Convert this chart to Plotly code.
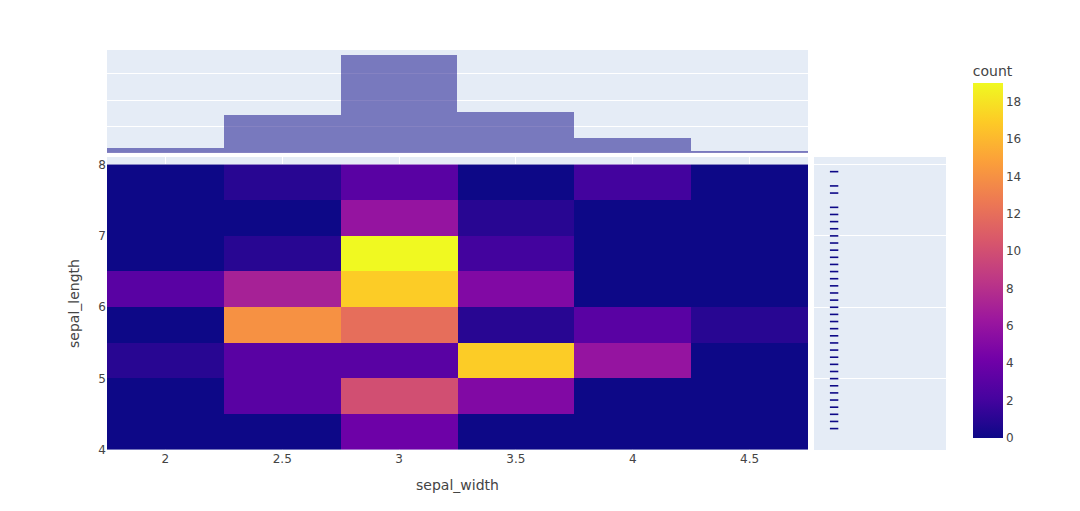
import plotly.graph_objects as go

# bin centres
sepal_width_bins = [2.0, 2.5, 3.0, 3.5, 4.0, 4.5]
sepal_length_bins = [4.25, 4.75, 5.25, 5.75, 6.25, 6.75, 7.25, 7.75]

# counts per cell, one row per sepal_length bin (bottom to top)
counts = [
    [0, 0, 4, 0, 0, 0],
    [0, 3, 10, 5, 0, 0],
    [1, 3, 3, 17, 6, 0],
    [0, 14, 12, 1, 3, 1],
    [3, 7, 17, 5, 0, 0],
    [0, 1, 19, 2, 0, 0],
    [0, 0, 6, 1, 0, 0],
    [0, 1, 3, 0, 2, 0],
]

# top marginal histogram
width_hist = [4, 29, 74, 31, 11, 1]

# right marginal rug: sepal_length values seen as ticks
length_rug = [4.3, 4.4, 4.5, 4.6, 4.7, 4.8, 4.9, 5.0, 5.1, 5.2, 5.3, 5.4,
              5.5, 5.6, 5.7, 5.8, 5.9, 6.0, 6.1, 6.2, 6.3, 6.4, 6.5, 6.6,
              6.7, 6.8, 6.9, 7.0, 7.1, 7.2, 7.3, 7.4, 7.6, 7.7, 7.9]

fig = go.Figure()

fig.add_trace(go.Heatmap(
    x=sepal_width_bins, y=sepal_length_bins, z=counts,
    colorscale="Plasma", zmin=0,
    colorbar=dict(title=dict(text="count"), len=0.99),
    xaxis="x", yaxis="y",
))

fig.add_trace(go.Bar(
    x=sepal_width_bins, y=width_hist, width=0.5,
    marker=dict(color="#0d0887", line=dict(width=0)),
    opacity=0.5, showlegend=False,
    xaxis="x3", yaxis="y2",
))

fig.add_trace(go.Box(
    y=length_rug, boxpoints="all", jitter=0,
    fillcolor="rgba(255,255,255,0)", line_color="rgba(255,255,255,0)",
    marker=dict(symbol="line-ew-open", color="#0d0887",
                line=dict(width=1.6)),
    showlegend=False, xaxis="x2", yaxis="y3",
))

# page body adds 8px around the plot, margins allow for it
fig.update_layout(
    width=1080, height=511,
    margin=dict(l=99, r=142, t=42, b=69),
    font=dict(family="DejaVu Sans", color="#444444"),
    bargap=0,
    xaxis=dict(domain=[0, 0.8355], anchor="y", title=dict(text="sepal_width")),
    yaxis=dict(domain=[0, 0.7325], anchor="x", dtick=1,
               title=dict(text="sepal_length")),
    xaxis2=dict(domain=[0.8427, 1], anchor="y3", showticklabels=False,
                showgrid=False, zeroline=False),
    yaxis3=dict(domain=[0, 0.7325], anchor="x2", matches="y", dtick=1,
                showticklabels=False),
    xaxis3=dict(domain=[0, 0.8355], anchor="y2", matches="x",
                showticklabels=False),
    yaxis2=dict(domain=[0.7425, 1], anchor="x3", showticklabels=False),
)

fig.write_html("out.html")
